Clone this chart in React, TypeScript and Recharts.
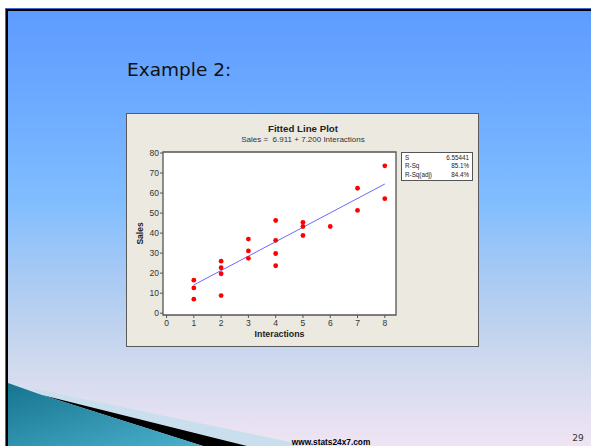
import React from 'react';
import { ScatterChart, Scatter, XAxis, YAxis, CartesianGrid, ReferenceArea } from 'recharts';

const INTERACTIONS = [1, 1, 1, 2, 2, 2, 2, 3, 3, 3, 4, 4, 4, 4, 5, 5, 5, 6, 7, 7, 8, 8];
const SALES = [16.5, 12.6, 7, 26, 22.7, 19.7, 8.8, 37, 31.1, 27.4, 46.3, 36.4, 29.8, 23.7, 45.4, 43.3, 38.8, 43.3, 62.4, 51.3, 73.6, 57.2];

// regression from the plot subtitle
const INTERCEPT = 6.911;
const SLOPE = 7.2;
const FIT_RANGE = [1, 8];

const X_TICKS = [0, 1, 2, 3, 4, 5, 6, 7, 8];
const Y_TICKS = [0, 10, 20, 30, 40, 50, 60, 70, 80];
const X_DOMAIN = [-0.13, 8.41];
const Y_DOMAIN = [-0.9, 80.5];

const STAT_LABELS = ['S', 'R-Sq', 'R-Sq(adj)'];
const STAT_VALUES = ['6.55441', '85.1%', '84.4%'];

const points = INTERACTIONS.map((x, i) => ({ x, y: SALES[i] }));
const fitData = FIT_RANGE.map(x => ({ x, y: INTERCEPT + SLOPE * x }));

const FONT = '"Liberation Sans", Arial, sans-serif';
const tickStyle = { fontSize: 8.5, fill: '#333', fontFamily: FONT };

const Dot = (props: any) => <circle cx={props.cx} cy={props.cy} r={2.4} fill="#FF0000" />;
const NoDot = () => <g />;

export default function App() {
  return (
    <div style={{ position: 'absolute', left: 0, top: 0, width: 591, height: 446, overflow: 'hidden', background: '#fff' }}>
      {/* slide background */}
      <div style={{ position: 'absolute', left: 5, top: 8, width: 600, height: 450, background: '#3b6ad0' }} />
      <div
        style={{
          position: 'absolute', left: 6, top: 9, width: 600, height: 450,
          borderTop: '2.5px solid #000', borderLeft: '2.5px solid #000',
          background: 'linear-gradient(180deg, #5e9bff 0%, #6eacff 22%, #80bdff 42%, #a6c9f4 58%, #c3d4ee 72%, #d6dcef 82%, #f5e6f5 100%)'
        }}
      />
      <svg width={591} height={446} style={{ position: 'absolute', left: 0, top: 0 }}>
        <defs>
          <linearGradient id="teal" x1="0" y1="0" x2="1" y2="1">
            <stop offset="0%" stopColor="#16748f" />
            <stop offset="100%" stopColor="#4bb0cc" />
          </linearGradient>
        </defs>
        <polygon points="30,388 300,444 300,446 247,446 42,395" fill="#c9dfee" />
        <polygon points="42,395 247,446 203,446" fill="#000" />
        <polygon points="8,383 42,395 203,446 8,446" fill="url(#teal)" />
        <text x={127} y={75.5} fontSize={18.5} fontFamily='"DejaVu Sans", sans-serif' fill="#111">Example 2:</text>
        <text x={331} y={445} fontSize={8.3} fontWeight="bold" fontFamily={FONT} textAnchor="middle" fill="#000">www.stats24x7.com</text>
        <text x={578} y={441} fontSize={9} fontFamily='"DejaVu Sans", sans-serif' textAnchor="middle" fill="#333">29</text>
      </svg>

      {/* Minitab panel */}
      <div style={{ position: 'absolute', left: 126, top: 112.5, width: 350.5, height: 232.7, border: '1.8px solid #5a5a5a', background: '#ECE9E0' }} />
      <div style={{ position: 'absolute', left: 128, top: 114, width: 350, height: 233 }}>
        <ScatterChart width={350} height={233} margin={{ top: 38, right: 82, bottom: 4, left: 5 }}>
          <CartesianGrid fill="#fff" horizontal={false} vertical={false} />
          <XAxis
            type="number"
            dataKey="x"
            domain={X_DOMAIN}
            allowDataOverflow
            ticks={X_TICKS}
            axisLine={false}
            tickLine={{ stroke: '#555' }}
            tickSize={3}
            tickMargin={1.5}
            height={28}
            tick={tickStyle}
            label={{ value: 'Interactions', position: 'insideBottom', offset: 6, style: { fontSize: 8.8, fontWeight: 'bold', fill: '#222', fontFamily: FONT } }}
          />
          <YAxis
            type="number"
            dataKey="y"
            domain={Y_DOMAIN}
            allowDataOverflow
            ticks={Y_TICKS}
            axisLine={false}
            tickLine={{ stroke: '#555' }}
            tickSize={3}
            tickMargin={1}
            width={30}
            tick={tickStyle}
            label={{ value: 'Sales', angle: -90, position: 'insideLeft', offset: 7, style: { fontSize: 8.5, fontWeight: 'bold', fill: '#222', fontFamily: FONT, textAnchor: 'middle' } }}
          />
          <ReferenceArea x1={X_DOMAIN[0]} x2={X_DOMAIN[1]} y1={Y_DOMAIN[0]} y2={Y_DOMAIN[1]} fill="none" fillOpacity={0} stroke="#555" strokeWidth={1.3} />
          <Scatter data={fitData} line={{ stroke: '#6a6aff', strokeWidth: 1 }} shape={NoDot} isAnimationActive={false} />
          <Scatter data={points} shape={Dot} isAnimationActive={false} />
        </ScatterChart>
      </div>

      {/* titles */}
      <div style={{ position: 'absolute', left: 128, width: 350, top: 123, textAlign: 'center', fontFamily: FONT, fontSize: 9.7, fontWeight: 'bold', lineHeight: '11px', color: '#222' }}>
        Fitted Line Plot
      </div>
      <div style={{ position: 'absolute', left: 128, width: 350, top: 134.5, textAlign: 'center', fontFamily: FONT, fontSize: 8, lineHeight: '9px', color: '#333', whiteSpace: 'pre' }}>
        {`Sales =  ${INTERCEPT.toFixed(3)} + ${SLOPE.toFixed(3)} Interactions`}
      </div>

      {/* summary box */}
      <div style={{ position: 'absolute', left: 404, top: 152, width: 64, height: 25.5, border: '1.5px solid #555', background: '#fff', padding: '1px 3px 0 3px', boxSizing: 'content-box', marginLeft: -3 }}>
        {STAT_LABELS.map((lab, i) => (
          <div key={lab} style={{ display: 'flex', justifyContent: 'space-between', fontFamily: FONT, fontSize: 6.3, lineHeight: '8.3px', color: '#222' }}>
            <span>{lab}</span>
            <span>{STAT_VALUES[i]}</span>
          </div>
        ))}
      </div>
    </div>
  );
}
